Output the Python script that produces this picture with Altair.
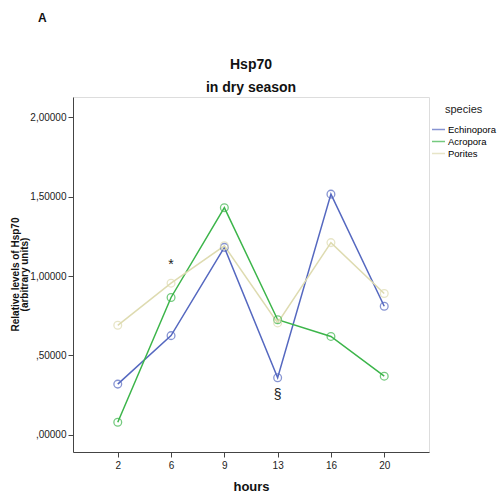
import altair as alt
import pandas as pd

hours = ["2", "6", "9", "13", "16", "20"]
species = ["Echinopora", "Acropora", "Porites"]
echinopora = [0.32, 0.625, 1.18, 0.36, 1.515, 0.81]
acropora = [0.08, 0.865, 1.43, 0.725, 0.62, 0.37]
porites = [0.69, 0.955, 1.19, 0.705, 1.21, 0.89]
colors = ["#5568c0", "#3cb54a", "#dedbb0"]

marks_text = ["*", "§"]
marks_hour = ["6", "13"]
marks_val = [1.07, 0.25]

rows = []
for sp, vals in zip(species, [echinopora, acropora, porites]):
    for h, v in zip(hours, vals):
        rows.append({"hours": h, "value": v, "species": sp})
df = pd.DataFrame(rows)
ann = pd.DataFrame({"hours": marks_hour, "value": marks_val, "label": marks_text})

FONT = "Liberation Sans"

xenc = alt.X("hours:O", sort=hours, scale=alt.Scale(domain=hours, type="point", padding=0.84),
             axis=alt.Axis(title="hours", titleFontSize=13, titleFontWeight="bold", titlePadding=10,
                           labelAngle=0, labelFontSize=10, labelFont=FONT, titleFont=FONT,
                           domainColor="#444", tickColor="#444", labelColor="#222",
                           titleColor="#111", grid=False, tickSize=5, labelPadding=3))
yscale = alt.Scale(domain=[-0.107, 2.126], nice=False, zero=False)
yaxis = alt.Axis(title=["Relative levels of Hsp70", "(arbitrary units)"], titleFontSize=10,
                 titleFontWeight="bold", titleFont=FONT, labelFont=FONT, labelFontSize=10,
                 values=[0, 0.5, 1.0, 1.5, 2.0], grid=False, tickSize=5,
                 labelExpr="datum.value < 1 ? replace(format(datum.value, '.5f'), '0.', ',') : replace(format(datum.value, '.5f'), '.', ',')",
                 domainColor="#444", tickColor="#444", labelColor="#222", titleColor="#111",
                 titleX=-63, titleY=177, titleAngle=270, titleAlign="center", titleBaseline="top",
                 titleLineHeight=9)

color = alt.Color("species:N", sort=species,
                  scale=alt.Scale(domain=species, range=colors),
                  legend=alt.Legend(title=None, orient="none", legendX=358, legendY=25,
                                    labelFont=FONT, labelFontSize=9.5, symbolType="stroke",
                                    symbolSize=170, symbolStrokeWidth=1.5, rowPadding=0,
                                    labelOffset=2, padding=0))

lines = alt.Chart(df).transform_calculate(
    hours_idx="indexof(['2','6','9','13','16','20'], datum.hours)"
).mark_line(strokeWidth=1.5).encode(
    x=xenc, y=alt.Y("value:Q", scale=yscale, axis=yaxis), color=color,
    order=alt.Order("hours_idx:Q"))

points = alt.Chart(df).mark_point(shape="circle", filled=False, size=60, strokeWidth=1.3).encode(
    x=xenc, y=alt.Y("value:Q", scale=yscale, axis=yaxis), color=color)

txt = alt.Chart(ann).mark_text(fontSize=14, font=FONT, color="#222").encode(
    x=xenc, y=alt.Y("value:Q", scale=yscale, axis=yaxis), text="label:N")

letter = alt.Chart(pd.DataFrame({"t": ["A"]})).mark_text(
    fontSize=12, fontWeight="bold", font=FONT, color="#111", align="left").encode(
    x=alt.value(-35), y=alt.value(-79), text="t:N")

title1 = alt.Chart(pd.DataFrame({"t": ["Hsp70"]})).mark_text(
    fontSize=14, fontWeight="bold", font=FONT, color="#111", align="center", baseline="middle").encode(
    x=alt.value(178), y=alt.value(-32), text="t:N")

title2 = alt.Chart(pd.DataFrame({"t": ["in dry season"]})).mark_text(
    fontSize=14, fontWeight="bold", font=FONT, color="#111", align="center", baseline="middle").encode(
    x=alt.value(178), y=alt.value(-9), text="t:N")

legtitle = alt.Chart(pd.DataFrame({"t": ["species"]})).mark_text(
    fontSize=11, font=FONT, color="#222", align="left", baseline="middle").encode(
    x=alt.value(372), y=alt.value(13), text="t:N")

chart = alt.layer(lines, points, txt, letter, title1, title2, legtitle).properties(
    width=356, height=355,
    autosize=alt.AutoSizeParams(type="none"),
    padding={"left": 73, "top": 97, "right": 73, "bottom": 47},
).configure_view(stroke="#444", strokeWidth=1).configure(background="white")

chart.save("out.html", embed_options={"renderer": "svg", "actions": False})
